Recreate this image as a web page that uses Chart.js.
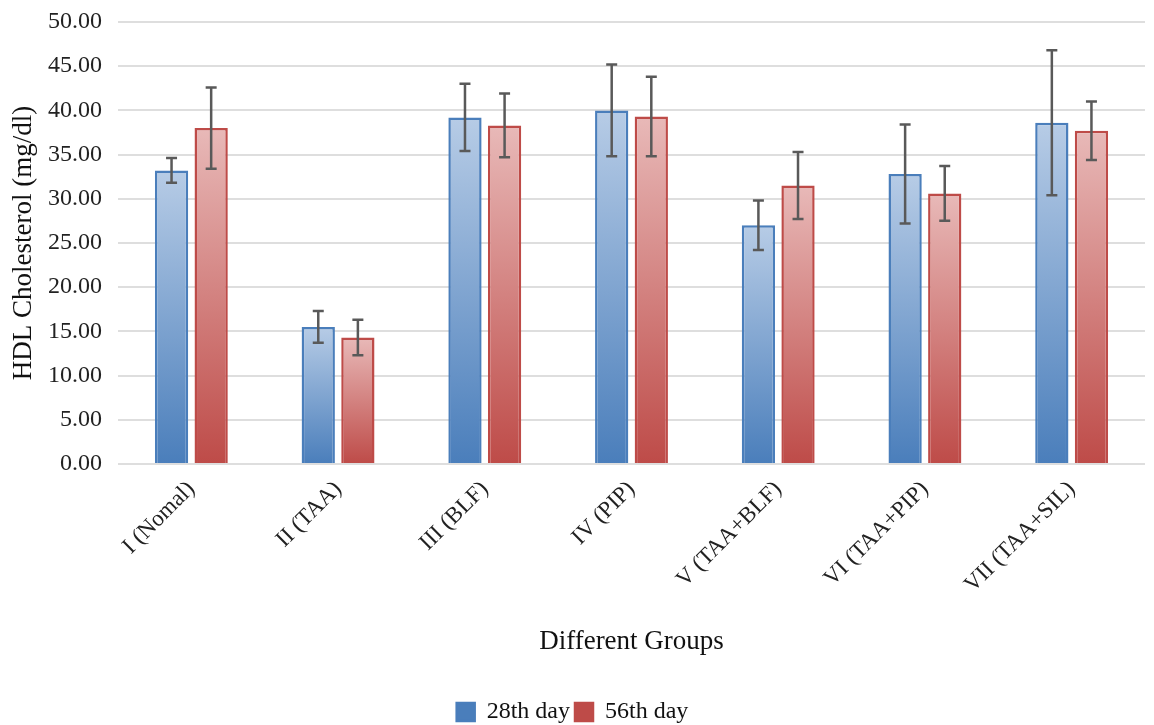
<!DOCTYPE html>
<html>
<head>
<meta charset="utf-8">
<title>HDL Cholesterol</title>
<script src="https://cdn.jsdelivr.net/npm/chart.js@4"></script>
<style>
	html, body { margin: 0; padding: 0; background: #fff; }
	#wrap { width: 1154px; height: 725px; }
</style>
</head>
<body>
<div id="wrap"><canvas id="hdlChart"></canvas></div>
<script>
const groups = ['I (Nomal)', 'II (TAA)', 'III (BLF)', 'IV (PIP)', 'V (TAA+BLF)', 'VI (TAA+PIP)', 'VII (TAA+SIL)'];
const day28 = [33.2, 15.5, 39.2, 40.0, 27.0, 32.8, 38.6];
const day28Err = [1.4, 1.8, 3.8, 5.2, 2.8, 5.6, 8.2];
const day56 = [38.0, 14.3, 38.3, 39.3, 31.5, 30.6, 37.7];
const day56Err = [4.6, 2.0, 3.6, 4.5, 3.8, 3.1, 3.3];

Chart.defaults.font.family = '"Liberation Serif", "Times New Roman", serif';
Chart.defaults.font.size = 24;
Chart.defaults.color = '#222';

// each bar fades from light at the top to dark at the base
function barGradient(context, light, dark, mid) {
	const chart = context.chart;
	if (context.raw === undefined || !chart.chartArea) return mid;
	const y = chart.scales.y;
	const top = y.getPixelForValue(context.raw);
	const bottom = y.getPixelForValue(0);
	const g = chart.ctx.createLinearGradient(0, top, 0, bottom);
	g.addColorStop(0, light);
	g.addColorStop(1, dark);
	return g;
}

const errorBars = {
	id: 'errorBars',
	afterDatasetsDraw(chart) {
		const ctx = chart.ctx;
		const y = chart.scales.y;
		ctx.save();
		ctx.strokeStyle = '#595959';
		ctx.lineWidth = 2.5;
		chart.data.datasets.forEach((ds, i) => {
			const meta = chart.getDatasetMeta(i);
			meta.data.forEach((bar, j) => {
				const v = ds.data[j];
				const e = ds.errors[j];
				const top = y.getPixelForValue(v + e);
				const bot = y.getPixelForValue(v - e);
				const x = bar.x;
				ctx.beginPath();
				ctx.moveTo(x, top); ctx.lineTo(x, bot);
				ctx.moveTo(x - 5.5, top); ctx.lineTo(x + 5.5, top);
				ctx.moveTo(x - 5.5, bot); ctx.lineTo(x + 5.5, bot);
				ctx.stroke();
			});
		});
		ctx.restore();
	}
};

const ctx = document.getElementById('hdlChart').getContext('2d');

new Chart(ctx, {
	type: 'bar',
	data: {
		labels: groups,
		datasets: [
			{
				label: '28th day',
				data: day28,
				errors: day28Err,
				backgroundColor: c => barGradient(c, '#b7cce6', '#4a7ebb', '#7ea3d0'),
				borderColor: '#4a7ebb',
				borderWidth: 2.5,
			},
			{
				label: '56th day',
				data: day56,
				errors: day56Err,
				backgroundColor: c => barGradient(c, '#e8b9b8', '#be4b48', '#d58583'),
				borderColor: '#be4b48',
				borderWidth: 2.5,
			},
		],
	},
	options: {
		responsive: true,
		maintainAspectRatio: false,
		animation: false,
		categoryPercentage: 0.54,
		barPercentage: 0.84,
		layout: {
			padding: { left: 0, right: 9, top: 22, bottom: -9 },
		},
		plugins: {
			legend: {
				position: 'bottom',
				labels: {
					boxWidth: 18,
					boxHeight: 18,
					padding: 5,
					color: '#111',
				},
			},
			tooltip: { enabled: false },
		},
		scales: {
			x: {
				grid: { display: false },
				border: { display: false },
				afterFit: s => { s.paddingLeft = 0; s.paddingRight = 0; },
				ticks: {
					minRotation: 45,
					maxRotation: 45,
					color: '#222',
					font: { size: 23 },
					padding: 4,
				},
				title: {
					display: true,
					text: 'Different Groups',
					font: { size: 27 },
					color: '#111',
					padding: { top: 23, bottom: 37 },
				},
			},
			y: {
				min: 0,
				max: 50,
				border: { display: false },
				grid: {
					color: '#dedede',
					lineWidth: 2,
					drawTicks: false,
				},
				afterFit: s => { s.width = 118; s.paddingTop = 0; s.paddingBottom = 0; },
				ticks: {
					stepSize: 5,
					padding: 16,
					callback: v => v.toFixed(2),
				},
				title: {
					display: true,
					text: 'HDL Cholesterol (mg/dl)',
					font: { size: 27 },
					color: '#111',
					padding: { top: 8, bottom: 8 },
				},
			},
		},
	},
	plugins: [errorBars],
});
</script>
</body>
</html>
